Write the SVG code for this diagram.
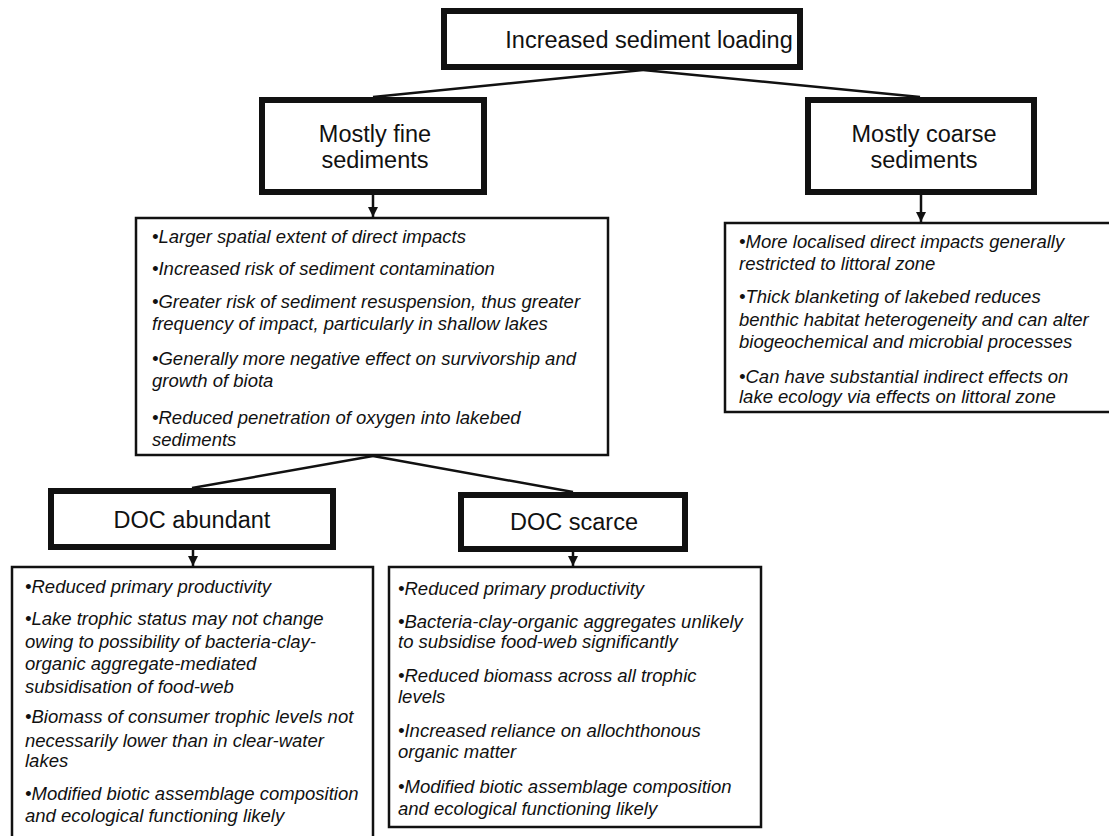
<svg xmlns="http://www.w3.org/2000/svg" width="1109" height="836" viewBox="0 0 1109 836">
<defs>
<marker id="ah" viewBox="0 0 10 10" refX="10" refY="5" markerWidth="4" markerHeight="4" orient="auto" markerUnits="strokeWidth">
<path d="M0,0 L10,5 L0,10 z" fill="#111"/>
</marker>
<style>
.thick{fill:#fff;stroke:#111;stroke-width:6}
.thin{fill:#fff;stroke:#111;stroke-width:2.5}
.title{font-family:"Liberation Sans",Arial,sans-serif;font-size:23.5px;fill:#111;text-anchor:middle}
.body{font-family:"Liberation Sans",Arial,sans-serif;font-size:18.5px;font-style:italic;fill:#111}
.conn{stroke:#111;stroke-width:2.5;fill:none}
</style>
</defs>
<rect width="1109" height="836" fill="#fff"/>
<g id="connectors">
<line class="conn" x1="643" y1="70" x2="373" y2="97"/>
<line class="conn" x1="643" y1="70" x2="920" y2="97"/>
<line class="conn" x1="373" y1="456" x2="192" y2="488"/>
<line class="conn" x1="373" y1="456" x2="573" y2="492"/>
<line class="conn" x1="373" y1="195" x2="373" y2="217" marker-end="url(#ah)"/>
<line class="conn" x1="921" y1="195" x2="921" y2="222" marker-end="url(#ah)"/>
<line class="conn" x1="193" y1="550" x2="193" y2="566" marker-end="url(#ah)"/>
<line class="conn" x1="573" y1="552" x2="573" y2="566" marker-end="url(#ah)"/>
</g>
<g id="top">
<rect class="thick" x="444" y="11" width="356" height="56"/>
<text class="title" x="649" y="48">Increased sediment loading</text>
</g>
<g id="fine">
<rect class="thick" x="262" y="100" width="222" height="92"/>
<text class="title" x="375" y="142">Mostly fine</text>
<text class="title" x="375" y="168">sediments</text>
</g>
<g id="coarse">
<rect class="thick" x="808" y="100" width="226" height="92"/>
<text class="title" x="924" y="142">Mostly coarse</text>
<text class="title" x="924" y="168">sediments</text>
</g>
<g id="fine-effects">
<rect class="thin" x="136" y="218" width="472" height="237"/>
<text class="body" x="152" y="243">•Larger spatial extent of direct impacts</text>
<text class="body" x="152" y="275">•Increased risk of sediment contamination</text>
<text class="body" x="152" y="308">•Greater risk of sediment resuspension, thus greater</text>
<text class="body" x="152" y="330">frequency of impact, particularly in shallow lakes</text>
<text class="body" x="152" y="365">•Generally more negative effect on survivorship and</text>
<text class="body" x="152" y="387">growth of biota</text>
<text class="body" x="152" y="424">•Reduced penetration of oxygen into lakebed</text>
<text class="body" x="152" y="446">sediments</text>
</g>
<g id="coarse-effects">
<rect class="thin" x="725" y="223" width="400" height="189"/>
<text class="body" x="739" y="248">•More localised direct impacts generally</text>
<text class="body" x="739" y="270">restricted to littoral zone</text>
<text class="body" x="739" y="303">•Thick blanketing of lakebed reduces</text>
<text class="body" x="739" y="326">benthic habitat heterogeneity and can alter</text>
<text class="body" x="739" y="348">biogeochemical and microbial processes</text>
<text class="body" x="739" y="383">•Can have substantial indirect effects on</text>
<text class="body" x="739" y="403">lake ecology via effects on littoral zone</text>
</g>
<g id="doc-abundant">
<rect class="thick" x="51" y="491" width="282" height="56"/>
<text class="title" x="192" y="528">DOC abundant</text>
</g>
<g id="doc-scarce">
<rect class="thick" x="461" y="495" width="224" height="54"/>
<text class="title" x="574" y="530">DOC scarce</text>
</g>
<g id="abundant-effects">
<rect class="thin" x="12" y="567" width="361" height="280"/>
<text class="body" x="25" y="593">•Reduced primary productivity</text>
<text class="body" x="25" y="625">•Lake trophic status may not change</text>
<text class="body" x="25" y="648">owing to possibility of bacteria-clay-</text>
<text class="body" x="25" y="670">organic aggregate-mediated</text>
<text class="body" x="25" y="693">subsidisation of food-web</text>
<text class="body" x="25" y="723">•Biomass of consumer trophic levels not</text>
<text class="body" x="25" y="747">necessarily lower than in clear-water</text>
<text class="body" x="25" y="767">lakes</text>
<text class="body" x="25" y="800">•Modified biotic assemblage composition</text>
<text class="body" x="25" y="822">and ecological functioning likely</text>
</g>
<g id="scarce-effects">
<rect class="thin" x="389" y="567" width="372" height="260"/>
<text class="body" x="398" y="595">•Reduced primary productivity</text>
<text class="body" x="398" y="628">•Bacteria-clay-organic aggregates unlikely</text>
<text class="body" x="398" y="648">to subsidise food-web significantly</text>
<text class="body" x="398" y="682">•Reduced biomass across all trophic</text>
<text class="body" x="398" y="703">levels</text>
<text class="body" x="398" y="737">•Increased reliance on allochthonous</text>
<text class="body" x="398" y="758">organic matter</text>
<text class="body" x="398" y="793">•Modified biotic assemblage composition</text>
<text class="body" x="398" y="815">and ecological functioning likely</text>
</g>
</svg>
